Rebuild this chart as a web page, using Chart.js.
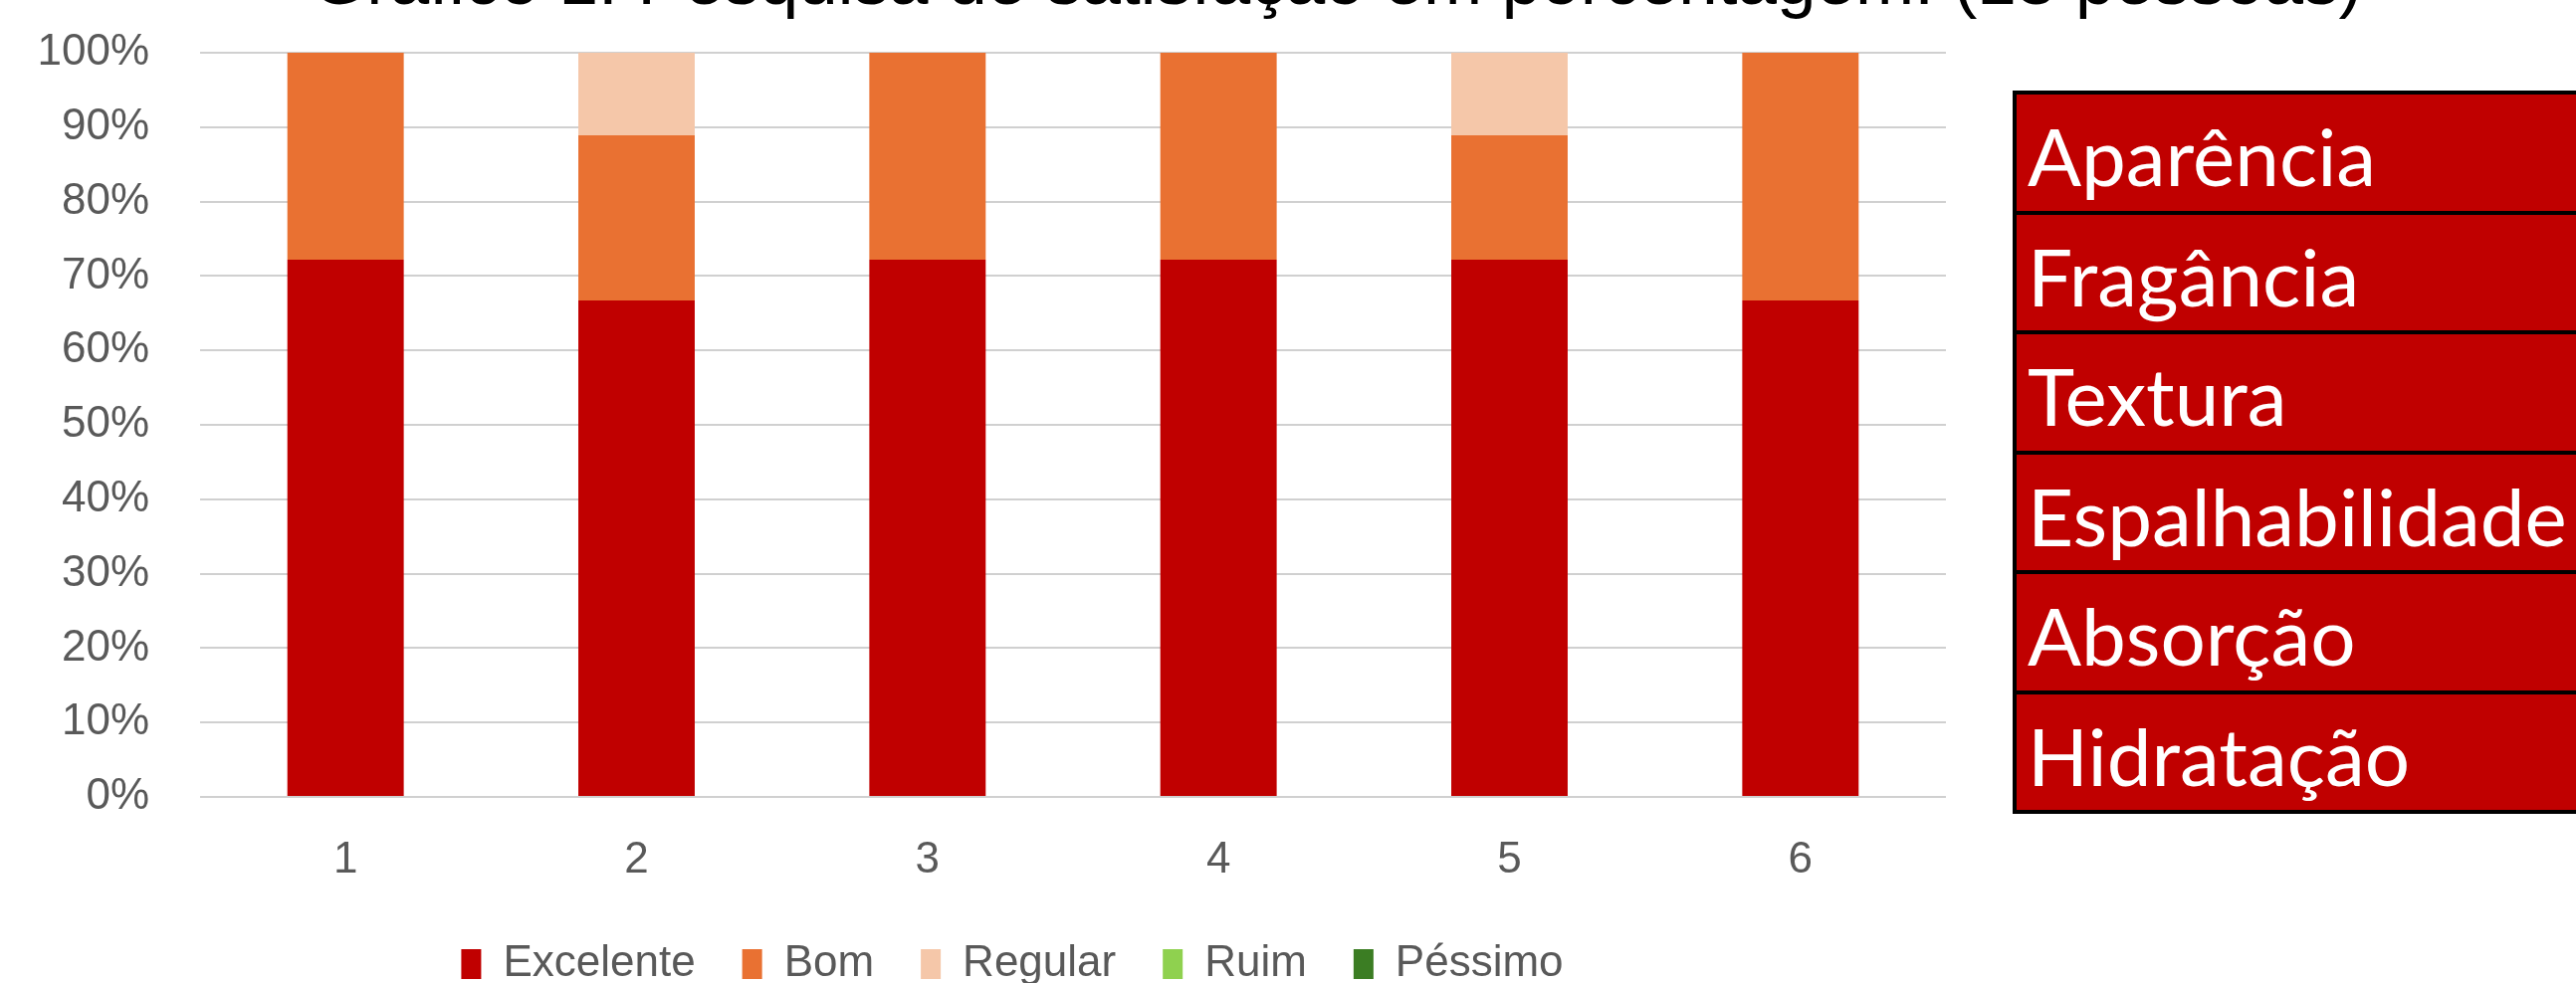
<!DOCTYPE html>
<html>
<head>
<meta charset="utf-8">
<script src="https://cdn.jsdelivr.net/npm/chart.js@4.4.0/dist/chart.umd.min.js"></script>
<style>
    html, body { margin: 0; padding: 0; background: #fff; overflow: hidden; }
    body { width: 2588px; height: 988px; position: relative; }
    #title {
        position: absolute; left: 313px; top: -56px;
        font: 71px "Liberation Sans", Arial, sans-serif; line-height: 71px;
        color: #000; white-space: nowrap;
    }
    #wrap { position: absolute; left: 0; top: 0; width: 2034px; height: 1001px; }
    #criteria {
        position: absolute; left: 2022px; top: 91px; width: 700px;
        border: 4px solid #000; background: #c00000;
    }
    #criteria div {
        height: 116.5px; padding-left: 11px;
        font: 80px Lato, "Open Sans", sans-serif; line-height: 122px; color: #fff;
        border-top: 4px solid #000; white-space: nowrap; overflow: hidden;
    }
    #criteria div:first-child { border-top: none; }
</style>
</head>
<body>
<div id="title">Gráfico 1: Pesquisa de satisfação em porcentagem. (18 pessoas)</div>
<div id="wrap"><canvas id="overall"></canvas></div>
<div id="criteria"></div>
<script>
var aCategories = ['1', '2', '3', '4', '5', '6'];
var aExcelente = [72.2, 66.7, 72.2, 72.2, 72.2, 66.7];
var aBom = [27.8, 22.2, 27.8, 27.8, 16.7, 33.3];
var aRegular = [0, 11.1, 0, 0, 11.1, 0];
var aRuim = [0, 0, 0, 0, 0, 0];
var aPessimo = [0, 0, 0, 0, 0, 0];
var aSeriesNames = ['Excelente', 'Bom', 'Regular', 'Ruim', 'Péssimo'];
var aCriteria = ['Aparência', 'Fragância', 'Textura', 'Espalhabilidade', 'Absorção', 'Hidratação'];
var aYTicks = [0, 10, 20, 30, 40, 50, 60, 70, 80, 90, 100];

var oGraph = {
    init: function () {
        oGraph.buildCriteria();
        oGraph.overallGraph();
    },

    buildCriteria: function () {
        var oBox = document.getElementById('criteria');
        for (var i = 0; i < aCriteria.length; i++) {
            var oRow = document.createElement('div');
            oRow.textContent = aCriteria[i];
            oBox.appendChild(oRow);
        }
    },

    overallGraph: function () {
        var sGray = '#595959';
        var sFont = '"Liberation Sans", Arial, sans-serif';
        var aColors = ['#c00000', '#e97132', '#f5c7a9', '#8fd14f', '#3b7d23'];
        var aValues = [aExcelente, aBom, aRegular, aRuim, aPessimo];
        var aDatasets = [];
        for (var i = 0; i < aSeriesNames.length; i++) {
            aDatasets.push({
                label: aSeriesNames[i],
                data: aValues[i],
                backgroundColor: aColors[i],
                borderWidth: 0,
                categoryPercentage: 1,
                barPercentage: 0.4
            });
        }

        var overall = document.getElementById('overall').getContext('2d');
        new Chart(overall, {
            type: 'bar',
            data: { labels: aCategories, datasets: aDatasets },
            options: {
                responsive: true,
                maintainAspectRatio: false,
                animation: false,
                layout: { padding: { top: 53, left: 38, right: 38, bottom: 0 } },
                plugins: {
                    tooltip: { enabled: false },
                    legend: {
                        position: 'bottom',
                        labels: {
                            boxWidth: 20,
                            boxHeight: 30,
                            padding: 47,
                            color: sGray,
                            font: { family: sFont, size: 44 }
                        }
                    }
                },
                scales: {
                    x: {
                        stacked: true,
                        grid: { display: false, drawTicks: false },
                        border: { display: false },
                        afterFit: function (scale) { scale.height = 99; },
                        ticks: {
                            color: sGray,
                            padding: 37,
                            font: { family: sFont, size: 44 }
                        }
                    },
                    y: {
                        stacked: true,
                        min: 0,
                        max: 100,
                        afterBuildTicks: function (scale) {
                            scale.ticks = aYTicks.map(function (v) { return { value: v }; });
                        },
                        afterFit: function (scale) {
                            scale.width = 163;
                            scale.paddingTop = 0;
                            scale.paddingBottom = 0;
                        },
                        grid: { color: '#d0d0d0', lineWidth: 2, drawTicks: false },
                        border: { display: false },
                        ticks: {
                            color: sGray,
                            padding: 51,
                            font: { family: sFont, size: 44 },
                            callback: function (v) { return v + '%'; }
                        }
                    },
                    // empty right-hand box so the legend centres like the original
                    yRight: {
                        type: 'linear',
                        position: 'right',
                        grid: { display: false, drawTicks: false },
                        border: { display: false },
                        ticks: { display: false },
                        afterFit: function (scale) { scale.width = 41; }
                    }
                }
            }
        });
    }
};

document.addEventListener('DOMContentLoaded', function () {
    oGraph.init();
});
</script>
</body>
</html>
